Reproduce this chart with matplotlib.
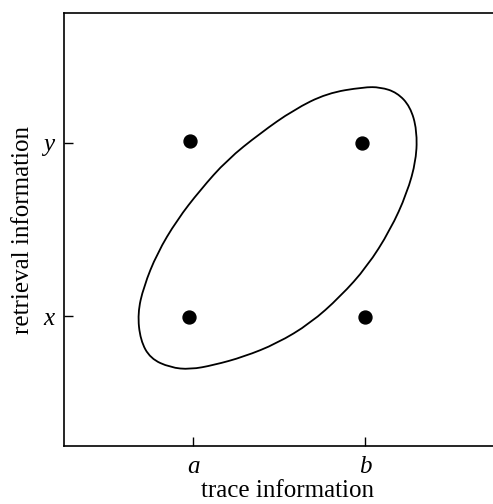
import numpy as np
import matplotlib
matplotlib.use('Agg')
import matplotlib.pyplot as plt
from matplotlib.path import Path
from matplotlib.patches import PathPatch

# four conditions: trace info (a, b) x retrieval info (x, y)
pt_trace = [0.984, 1.985, 0.975, 2.000]
pt_retr = [2.013, 1.998, 0.992, 0.996]

# outline of the closed curve (traced by eye, data units)
curve_x = [1.992, 1.779, 1.585, 1.391, 1.198, 1.042, 0.907, 0.791, 0.713, 0.678,
           0.694, 0.752, 0.868, 0.984, 1.120, 1.295, 1.488, 1.682, 1.856, 2.012,
           2.147, 2.244, 2.298, 2.302, 2.263, 2.186, 2.089]
curve_y = [2.322, 2.287, 2.191, 2.056, 1.902, 1.728, 1.555, 1.362, 1.169, 1.016,
           0.861, 0.755, 0.703, 0.692, 0.717, 0.765, 0.842, 0.958, 1.112, 1.285,
           1.497, 1.709, 1.902, 2.075, 2.210, 2.291, 2.322]

xtick_pos = [1, 2]
xtick_lab = ['a', 'b']
ytick_pos = [1, 2]
ytick_lab = ['x', 'y']

plt.rcParams['font.family'] = ['Liberation Serif', 'DejaVu Serif']

fig = plt.figure(figsize=(4.93, 5.04), dpi=100)
W, H = 493.0, 504.0
ax = fig.add_axes([64 / W, 1 - 446 / H, 430 / W, 433 / H])

# smooth closed curve: quadratic segments through midpoints of the traced points
n = len(curve_x)
P = np.column_stack([curve_x, curve_y])
mids = (P + np.roll(P, -1, axis=0)) / 2
verts = [mids[-1]]
codes = [Path.MOVETO]
for i in range(n):
    verts += [P[i], mids[i]]
    codes += [Path.CURVE3, Path.CURVE3]
ax.add_patch(PathPatch(Path(verts, codes), fill=False, lw=1.3, ec='black'))

ax.plot(pt_trace, pt_retr, 'o', color='black', markersize=9.3, ls='none')

ax.set_xlim(0.25, 2.75)
ax.set_ylim(0.25, 2.75)
ax.set_xticks(xtick_pos)
ax.set_xticklabels(xtick_lab, style='italic', fontsize=18)
ax.set_yticks(ytick_pos)
ax.set_yticklabels(ytick_lab, style='italic', fontsize=18)
ax.tick_params(direction='in', length=6.5, width=1.0, pad=7)
for s in ax.spines.values():
    s.set_linewidth(1.2)

ax.set_xlabel('trace information', fontsize=18)
ax.xaxis.set_label_coords((287 - 64) / 430, -(480 - 446) / 433)
ax.set_ylabel('retrieval information', fontsize=18)
ax.yaxis.set_label_coords(-(64 - 34) / 430, 0.5)

fig.savefig('out.png', dpi=100)
